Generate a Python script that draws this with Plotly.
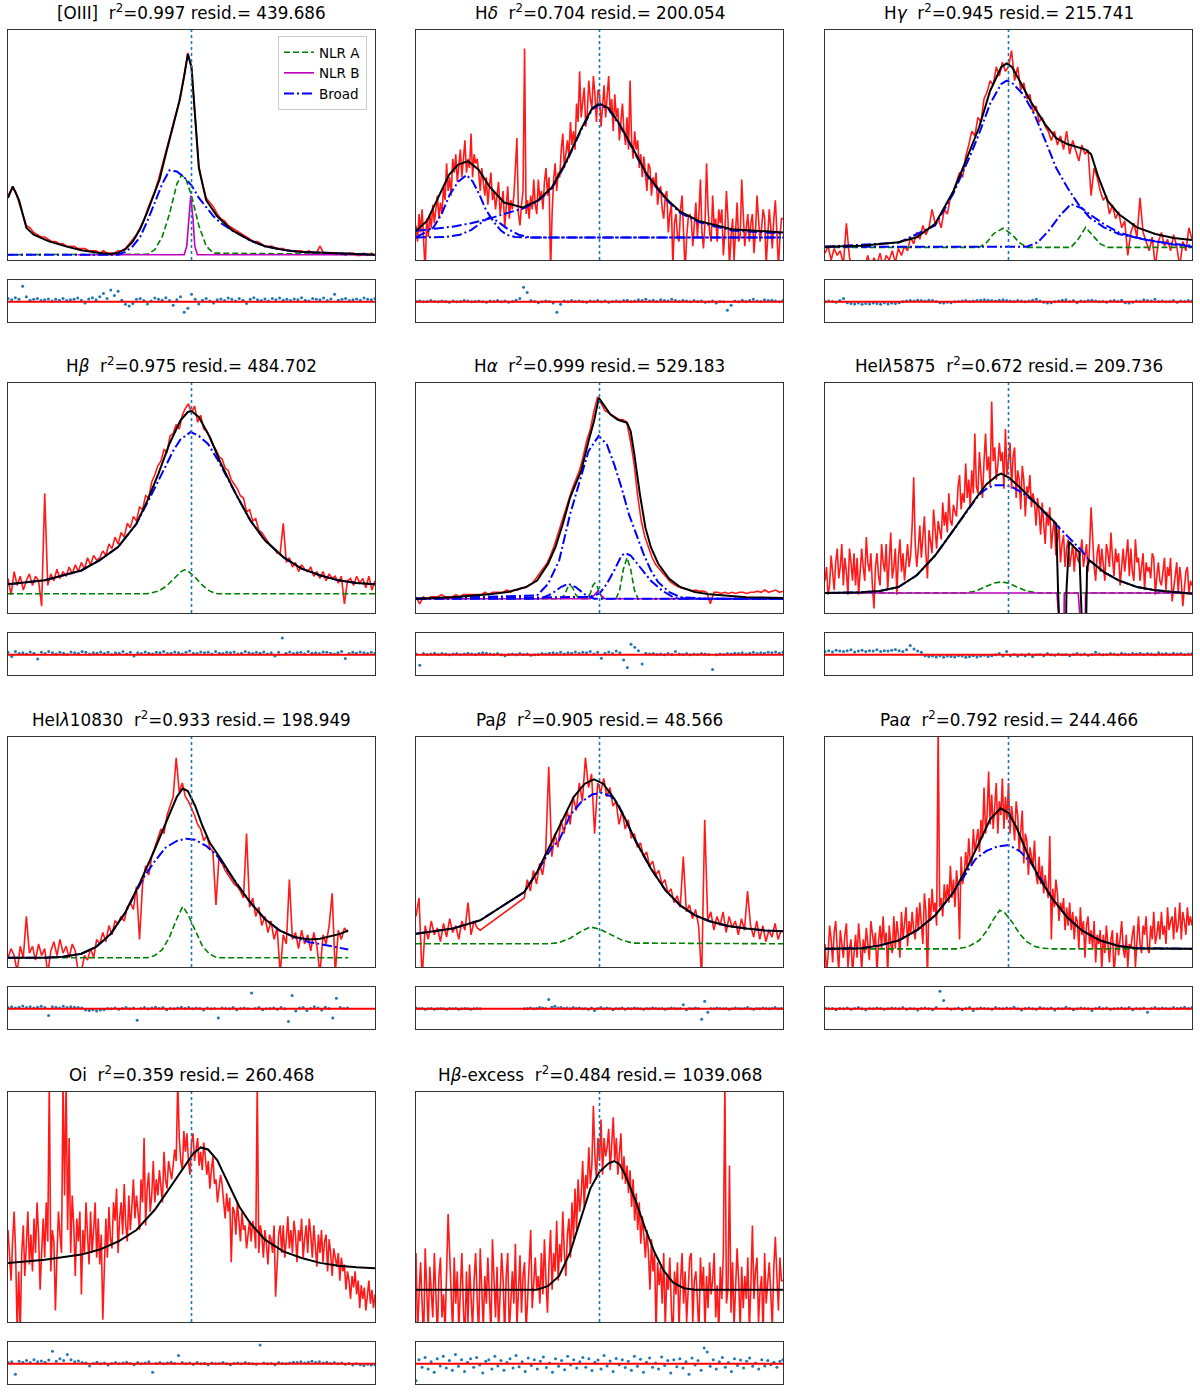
import plotly.graph_objects as go

# ---- [OIII] ----
oiii_red = [28, 31, 30, 25, 21, 15, 14, 12, 11, 10, 10, 9, 8, 8, 7, 7, 6, 6, 6, 5, 5, 5, 4, 4, 4, 3, 4, 3, 3, 3,
            4, 4, 5, 7, 9, 11, 14, 17, 22, 26, 30, 35, 41, 47, 53, 59, 65, 71, 80, 90, 83, 61, 41, 33, 27, 25, 23,
            20, 18, 17, 15, 14, 13, 12, 11, 10, 9, 8, 8, 7, 6, 6, 6, 5, 5, 5, 4, 4, 4, 4, 4, 3, 4, 3, 3, 6, 3, 3,
            3, 3, 3, 3, 2, 3, 3, 2, 2, 3, 2, 3, 2]
oiii_fit_x = [0, 1.3, 3, 5, 7, 11, 16, 20, 25, 28, 30, 32, 34, 36, 38, 40, 41.3, 43, 45, 46.7, 48, 49, 50, 50.8,
              52, 54, 57, 61, 66, 70, 75, 79, 88, 100]
oiii_fit_y = [27, 32, 26, 14, 11, 8.2, 5.8, 4.2, 3, 2.6, 3.1, 4.7, 8, 13.5, 21, 29.5, 35, 46, 58, 69, 80, 89.5, 84,
              67, 40, 26, 19, 13, 8.5, 6, 4.4, 3.6, 3, 2.3]
oiii_nlra_x = [0, 38, 40, 42, 44, 45, 46, 47.3, 48.5, 50, 51, 52, 54, 56, 100]
oiii_nlra_y = [2.3, 2.5, 4.5, 10, 20, 27, 33, 37, 35, 28, 21, 15, 6, 3, 2.3]
oiii_nlrb_x = [19, 48, 48.7, 49.2, 49.8, 50.4, 50.9, 51.6, 100]
oiii_nlrb_y = [2.3, 2.3, 6, 18, 28, 18, 6, 2.3, 2.3]
oiii_broad_x = [0, 30, 32, 34, 36, 38, 40, 42, 44, 46, 48, 50, 52, 54, 56, 58, 61, 66, 70, 75, 80, 100]
oiii_broad_y = [2.3, 2.3, 3.5, 6, 10, 17, 25, 33, 39, 38.5, 36, 32.5, 27, 23, 19, 16, 13, 8.5, 6, 4.4, 3.5, 2.3]
oiii_resid = [8, 5, 10, 6, 37, 12, 4, 6, 8, 3, 5, 7, 2, 6, 4, 8, 3, 5, 6, 9, 4, -3, 7, 10, 5, 12, 20, 8, 28, 15, 25,
              4, -6, -10, -4, 6, 8, 3, -5, 2, 9, 6, 4, 10, 3, -8, 5, 12, -25, -15, 18, 6, -5, 4, 8, 2, -3, 5, 7, 3,
              9, 6, 2, 8, 4, -4, 6, 10, 5, 3, 7, 2, 8, 5, 9, 4, 6, 3, 7, 5, 10, 4, 2, 8, 6, 5, 9, 3, 7, 18, 4, 6, 8,
              3, 5, 7, 4, 9, 6, 5, 8]

# ---- H delta ----
hd_red = [15, 8, 20, 12, 22, 5, -5, 18, 10, 20, 14, 24, 16, 22, 28, 18, 25, 20, 32, 26,
          42, 30, 36, 28, 44, 38, 46, 34, 40, 48, 36, 45, 52, 38, 44, 40, 55, 36, 46, 42,
          44, 38, 30, 40, 34, 28, 36, 24, 32, 38, 26, 30, 22, 28, 34, 20, 26, 30, 14, 24,
          32, 18, 26, 22, 28, 40, 53, 20, 15, 24, 30, 92, 20, 26, 18, 28, 22, 35, 24, 20,
          35, 26, 30, 22, 34, 40, 28, 36, -5, 20, 35, 42, 30, 38, 36, 48, 55, 40, 45, 52,
          45, 60, 50, 56, 48, 68, 60, 82, 62, 70, 75, 58, 64, 78, 70, 66, 80, 72, 60, 74,
          72, 58, 66, 76, 62, 70, 80, 64, 70, 56, 72, 62, 66, 52, 60, 68, 56, 50, 62, 48,
          78, 52, 44, 56, 48, 52, 40, 46, 36, 45, 38, 30, 42, 40, 28, 36, 32, 38, 24, 30,
          32, 22, 18, 28, 30, 12, 20, 24, -3, 16, 20, 10, 8, 22, 28, 14, -5, 10, 18, 20,
          18, 6, 14, 25, 10, 20, 35, 12, 5, 16, 42, 22, 12, 8, 28, 14, 18, 8, 22, 16,
          22, 2, 12, 30, 18, -3, 10, 18, 0, 14, 25, 8, 10, 35, 18, 6, 14, 20, 8, 16,
          20, 3, 12, 28, 18, 8, 14, 22, 18, -2, 10, 22, 14, 5, 18, 26, 12, -3, 10, 18, 18]
hd_fit_x = [0, 3, 6, 9, 11.5, 14.2, 17, 20, 24, 29, 33, 37, 41, 45, 48, 50, 52.5, 55.5, 59, 63, 68, 72, 77, 86, 100]
hd_fit_y = [12.7, 17, 27, 37, 41.5, 43, 39.4, 32, 25, 22.8, 25.7, 31.5, 43, 57, 66, 68, 66, 59, 48.8, 37, 27, 21,
            17, 13.4, 12]
hd_b1_x = [0, 4.7, 7, 9.2, 11.5, 13.8, 15.5, 17.4, 19, 21, 23, 24.6, 27, 30, 100]
hd_b1_y = [9.8, 14, 20, 28.5, 34, 37, 34, 28, 22, 17, 13, 11, 10, 9.8, 9.8]
hd_b2_x = [0, 5, 10, 15, 20, 25, 29, 33, 37, 41, 45, 48, 50, 52.5, 55.5, 59, 63, 68, 72, 77, 86, 100]
hd_b2_y = [12.7, 13.5, 14.5, 16, 18, 20.5, 22.3, 25.3, 31, 42.5, 56.5, 65.5, 67.5, 65.5, 58.5, 48.3, 36.5, 26.5,
           20.5, 16.5, 12.8, 11.5]
hd_b3_x = [0, 8, 12, 15, 18, 20, 22, 25, 28, 31, 100]
hd_b3_y = [9.8, 10, 11, 13, 16.5, 18.5, 17, 13.5, 11, 9.8, 9.8]
hd_resid = [1, 2, 0, 1, 3, 1, 0, 2, 1, -1, 2, 0, 1, 3, 2, 0, 1, 2, 0, -1, 2, 1, 3, 0, 2, -1, 1, 4, 8, 35, 22, 3, 1,
            -2, 0, 2, 1, -3, -25, -6, 2, 0, 3, 1, 2, 0, -1, 2, 1, 3, 0, 2, -1, 1, 2, 0, 3, 4, 1, 2, 5, 3, 6, 2, 4, 1,
            5, 3, 2, 6, 3, 1, 4, 2, 0, 3, 1, 2, -1, 0, 2, -3, 1, 0, -20, -8, 2, 0, 4, 1, 3, 6, 2, 1, 5, 3, 4, 2, 0,
            3]

# ---- H gamma ----
hg_red = [3, 6, 0, 5, 2, 4, -2, 16, 1, -3, -5, -4, -6, -3, 2, -4, 1, -2, 3, -3, 2, 0, 4, -1, 5, 2, 6, 4, 10, 7, 12,
          9, 15, 11, 14, 22, 16, 18, 14, 22, 20, 27, 30, 34, 38, 36, 45, 50, 56, 54, 62, 60, 70, 73, 78, 76, 84,
          80, 86, 82, 84, 91, 78, 84, 74, 77, 70, 72, 64, 67, 60, 62, 58, 56, 52, 56, 50, 54, 48, 56, 46, 52, 48,
          43, 50, 46, 48, 28, 40, 36, 30, 26, 28, 20, 24, 18, 21, 14, 17, 2, 12, 16, 10, 27, 12, 8, 4, 10, -3, 8,
          12, 6, 9, 4, 11, 6, -3, 8, 4, 14, 9]
hg_fit_x = [0, 10, 20, 25, 30, 35, 38, 42, 45, 48, 49.5, 51, 53, 56, 60, 63, 66, 69, 71, 72.5, 74.5, 77, 80, 85, 90,
            95, 100]
hg_fit_y = [5.8, 6.2, 7.7, 9.9, 15.7, 30, 41.7, 57.7, 73.6, 83.8, 85.5, 83.8, 78, 69, 59, 53, 50.4, 49, 48, 46, 36,
            25.8, 20, 14.2, 11.3, 9.6, 8.7]
hg_nlra_x = [0, 42, 44, 46, 48.5, 51, 53, 55, 67, 69, 71, 73, 75, 77, 100]
hg_nlra_y = [5.5, 5.5, 7.5, 11.5, 13.8, 11, 7.5, 5.5, 5.5, 9, 14.2, 10.5, 7, 5.5, 5.5]
hg_b1_x = [0, 20, 30, 35, 40, 42, 45, 48, 49.5, 51, 54, 57, 60, 63, 66, 69, 72, 76, 80, 85, 90, 95, 100]
hg_b1_y = [5.8, 7.5, 15, 29, 47, 55, 68, 76.5, 78, 77, 72, 63.5, 52, 40, 31.6, 24.3, 18.6, 14.2, 11.3, 9.6, 8.1,
           6.7, 5.8]
hg_b2_x = [0, 55, 58, 61, 64, 67, 70, 72, 76, 80, 85, 90, 95, 100]
hg_b2_y = [5.8, 5.8, 7.7, 12.8, 19.3, 24.3, 22.5, 20, 15.6, 12, 9.6, 8, 7, 6.2]
hg_resid = [0, 2, 1, -1, 3, 8, -2, -4, -5, -3, -6, -4, -5, -3, -4, -6, -2, -5, -3, -4, -2, 0, 2, 3, 2, 4, 3, 2, 4,
            3, 1, -2, -3, -1, -2, 0, 1, 2, 3, 1, 2, 3, 4, 5, 4, 3, 2, 4, 5, 3, 2, 1, 3, 2, 0, 2, 4, 6, 2, -1, -3, -2,
            0, 2, 4, 5, 1, 3, -2, 2, 1, 3, 4, 2, 0, 1, -1, 2, 3, 1, 4, -2, -3, -1, 2, 1, 5, 3, 2, 6, 1, 2, 0, 1, 3,
            -1, 2, 1, 3, 2]

# ---- H beta ----
hb_red = [15, 8, 18, 12, 16, 10, 14, 17, 12, 16, 14, 3, 52, 12, 17, 14, 19, 15, 18, 16, 20, 17, 21, 18, 22, 19, 24,
          21, 25, 23, 24, 27, 25, 30, 28, 33, 30, 35, 33, 39, 37, 42, 40, 46, 45, 51, 50, 57, 60, 64, 66, 71, 70,
          77, 78, 82, 80, 86, 89, 91, 87, 90, 83, 86, 80, 79, 76, 73, 71, 68, 67, 63, 62, 58, 56, 54, 51, 50, 44,
          45, 40, 41, 36, 35, 33, 31, 29, 28, 26, 26, 39, 22, 24, 20, 22, 18, 21, 19, 18, 20, 16, 18, 15, 18, 14,
          17, 15, 16, 13, 16, 4, 14, 15, 12, 16, 13, 15, 11, 16, 10, 14]
hb_fit_x = [0, 10, 20, 25, 30, 35, 38, 41, 44, 47, 49, 50, 52, 55, 58, 62, 66, 70, 75, 80, 85, 90, 95, 100]
hb_fit_y = [12.5, 14.2, 18.5, 23, 28.7, 38.8, 49, 60.6, 73.6, 83.8, 87.4, 87.8, 85.2, 76.5, 65, 52, 40.3, 31.6,
            24.3, 19.3, 16.4, 14.2, 13, 12.5]
hb_nlra_x = [0, 38, 41, 43, 45, 47, 48, 49, 51, 53, 55, 57, 100]
hb_nlra_y = [8.4, 8.4, 9.5, 11.5, 14.5, 17.8, 18.8, 18.3, 15.5, 12, 9.5, 8.4, 8.4]
hb_broad_x = [0, 10, 20, 25, 30, 35, 38, 41, 43, 45, 47, 49.8, 52, 54.5, 57, 62, 66, 70, 75, 80, 85, 90, 95, 100]
hb_broad_y = [12.5, 14.2, 18.5, 23, 28.7, 38.8, 48, 58, 64, 70.5, 75.5, 78.7, 77, 73.5, 67, 52, 40.3, 31.6, 24.3,
              19.3, 16.4, 14.2, 13, 12.5]
hb_resid = [6, -4, 8, 3, 5, 2, 7, 4, -10, 6, 3, 8, 5, 2, 6, 4, 1, 7, 5, 3, 8, 6, 2, 5, 4, 7, 3, 6, 1, 5, 4, 8, 2, 6,
            -3, 5, 3, 7, 4, 2, 6, 5, 8, 3, 4, 7, 5, 2, 6, 9, 4, 3, 7, 5, 6, 2, 8, 4, 3, 6, 5, 7, 2, 4, 8, 5, 3, 6, 4,
            7, 2, 5, -3, 6, 40, 4, 7, 3, 5, 6, 2, 8, 4, 5, 3, 7, 6, 4, 2, 5, 8, -9, 3, 6, 4, 7, 5, 3, 6, 4]

# ---- H alpha ----
ha_red = [7, 4, 7, 6, 7, 7, 7, 8, 7, 7, 7, 8, 7, 8, 8, 8, 8, 8, 8, 9, 8, 9, 9, 9, 9, 10, 9, 10, 10, 11, 11, 12, 13,
          15, 17, 19, 21.5, 25, 29, 34, 39, 45, 50, 54, 58, 62, 68, 75, 80, 88,
          94, 91, 88, 87, 86, 85, 84, 84, 83, 75, 65, 51, 40, 33, 28, 24, 21, 19, 17, 15, 13.5, 12.5, 11.5, 11,
          10.5, 10, 9.7,
          10, 9.5, 9.5, 9, 4, 9, 9, 8.5, 9, 8.5, 9, 8.5, 9, 9, 8.5, 9, 9, 9.5, 9, 10, 9, 9.5, 10, 9, 9.5]
ha_fit_x = [0, 10, 20, 25, 30, 33, 36, 38, 40, 42, 43.5, 45, 47, 48.5, 49.8, 51, 53, 55, 56.5, 57.5, 58.5, 59.5, 61,
            62.5, 64, 66, 69, 72, 76, 80, 90, 100]
ha_fit_y = [6.2, 6.9, 8.1, 9.1, 11.3, 14.1, 21.4, 28.6, 38.7, 50.2, 56, 61.8, 74.7, 83.4, 93.5, 90.6, 86.3, 84,
            83.4, 82.7, 79, 69, 51.7, 37.2, 28.6, 21.4, 14.9, 11.3, 9.1, 8.1, 6.9, 6.5]
ha_nlra_x = [0, 39.5, 40.5, 41.3, 42, 42.7, 43.5, 44.5, 46.5, 47.5, 48.2, 48.7, 49.3, 50, 51, 54.5, 55.5, 56.5,
             57.5, 58.5, 59.5, 60.5, 100]
ha_nlra_y = [6.2, 6.2, 8, 11, 12, 11, 8, 6.2, 6.2, 8.5, 12, 13, 12, 8.5, 6.2, 6.2, 10, 19, 24, 19, 10, 6.2, 6.2]
ha_nlrb_x = [0, 47.5, 48.5, 49.5, 50.5, 51.5, 100]
ha_nlrb_y = [6.2, 6.2, 7.6, 9.5, 7.6, 6.2, 6.2]
ha_b1_x = [0, 33, 36, 39, 42, 45, 47, 49.8, 52, 54, 56, 58, 60, 62, 64, 66, 69, 72, 80, 100]
ha_b1_y = [6.2, 7.6, 12.7, 22.8, 43, 59, 70.4, 77, 73.3, 64.6, 54.5, 43, 34.3, 25.7, 18.5, 13.4, 9.1, 6.9, 6.2, 6.2]
ha_b2_x = [0, 47, 50, 52, 54, 56, 57, 58.5, 61, 64, 67, 70, 74, 100]
ha_b2_y = [6.2, 7, 8.4, 12.7, 18.5, 25, 26, 25, 20, 14, 9.8, 6.9, 6.2, 6.2]
ha_b3_x = [0, 34, 37, 39.5, 41.5, 43.5, 46, 48.5, 100]
ha_b3_y = [6.2, 6.2, 8.4, 11.3, 12.7, 11.3, 8.1, 6.2, 6.2]
ha_resid = [2, -25, 3, 1, 2, 4, 1, 3, 2, 0, 2, 3, 1, 2, 4, 2, 1, 3, 5, 4, 2, 1, 3, 0, -2, 1, 2, 0, 3, 1, 2, -1, 0, 1,
            3, 2, 4, 5, 3, 6, 2, 5, 4, 7, 3, 6, 5, 8, 2, 6, -8, 4, 7, 3, 9, 5, -12, -30, 25, 18, 10, -22, 4, 2, 3, 1,
            2, 0, 3, 1, 8, 2, 1, 3, 0, 2, 1, 3, 2, 1, -35, 0, 2, 1, 3, 2, 4, 3, 5, 2, 4, 6, 3, 5, 4, 6, 5, 7, 4, 6]

# ---- HeI 5875 ----
he5_red = [14, 20, 8, 12, 25, 18, 10, 22, 28, 15, 20, 30, 12, 24, 18, 8, 28, 22, 14, 26,
           12, 24, 8, 18, 28, 20, 14, 33, 22, 18, 26, 12, 2, 20, 26, 16, 12, 30, 22, 18,
           30, 10, 22, 35, 15, 20, 28, 8, 24, 32, 18, 26, 14, 22, 30, 20, 25, 38, 59, 30,
           20, 28, 38, 24, 32, 42, 26, 15, 36, 30, 26, 45, 34, 28, 40, 36, 32, 48, 38, 44,
           35, 52, 40, 38, 47, 44, 42, 55, 60, 45, 52, 48, 65, 50, 58, 46, 62, 52, 78, 55,
           52, 70, 58, 50, 66, 78, 62, 68, 55, 92, 66, 72, 58, 64, 74, 66, 70, 54, 80, 60,
           66, 74, 54, 68, 72, 50, 62, 58, 45, 64, 58, 42, 55, 52, 60, 46, 52, 48, 38, 50,
           44, 34, 48, 40, 30, 44, 38, 46, 28, 36, 40, 25, 33, 38, 22, 30, 34, 20, 28, 32,
           20, 26, 30, 18, 28, 24, 22, 26, 32, 20, 26, 30, 18, 28, 46, 32, 20, 14, 26, 30,
           18, 28, 22, 14, 30, 26, 20, 35, 24, 16, 28, 22, 26, 12, 20, 28, 18, 24, 32, 16,
           28, 18, 14, 32, 22, 24, 14, 20, 26, 10, 22, 18, 20, 15, 26, 24, 8, 16, 22, 14,
           12, 18, 24, 10, 20, 16, 24, 5, 12, 16, 22, 9, 20, 14, 3, 10, 18, 20, 8, 14, 12]
he5_fit_x = [0, 10, 15, 20, 25, 30, 35, 40, 44, 47, 48, 50, 53, 57, 61, 63, 63.5, 64.2, 65.2, 65.8, 66.5, 68, 69.3,
             69.9, 70.6, 71.4, 72, 76, 80, 85, 90, 100]
he5_fit_y = [8.7, 9, 9.6, 11.3, 16.4, 25, 36, 47.5, 56, 59.9, 60.6, 59, 54.8, 48.3, 41.7, 38.8, 10, -60, -60, 10,
             31, 28.5, 26.5, 0, -60, 20, 23, 17.8, 14.2, 11.3, 9.9, 8.4]
he5_nlra_x = [0, 38, 41, 44, 46, 48, 50, 52, 55, 58, 100]
he5_nlra_y = [8.7, 8.7, 9.5, 11.5, 13, 13.5, 13, 11.5, 9.5, 8.7, 8.7]
he5_nlrb_x = [0, 63.2, 63.6, 64.0, 64.8, 65.2, 69.0, 69.4, 69.8, 70.6, 71.0, 100]
he5_nlrb_y = [8.7, 8.7, 0, -60, -60, 8.7, 8.7, 0, -60, -60, 8.7, 8.7]
he5_broad_x = [0, 10, 15, 20, 25, 30, 35, 40, 42, 44, 46, 48.5, 51, 54, 57, 61, 64, 67, 70, 72, 76, 80, 85, 90, 100]
he5_broad_y = [8.7, 9, 9.6, 11.3, 16.4, 25, 36, 47, 51.5, 54, 55.5, 55.5, 54.8, 52, 48.3, 41.7, 36.7, 31.6, 27, 23,
               17.8, 14.2, 11.3, 9.9, 8.4]
he5_resid = [8, 10, 7, 11, 9, 8, 10, 12, 7, 9, 11, 8, 10, 9, 12, 8, 10, 9, 11, 13, 10, 8, 12, 22, 14, 9, 6, -2, -4,
             -3, -5, -2, -6, -3, -4, -5, -2, -3, -6, -4, -2, -5, -3, -1, -4, -2, 0, 3, -3, 8, -2, 1, -3, 0, -2, 2,
             -4, 0, 1, -2, 3, 0, -1, 2, 0, 1, -2, 1, 3, 0, 2, -1, 1, 6, 2, 0, 1, 3, 2, 0, 4, 2, 1, 3, 2, 4, 1, 3, 2,
             0, 5, 2, 3, 1, 4, 2, 3, 1, 2, 3]

# ---- HeI 10830 (spectrum stops before the right edge) ----
he10_end = 92.5
he10_red = [4, 8, 5, -2, 9, 4, 22, 6, 9, 3, 10, 5, 8, -3, 7, 11, 5, 12, 6, 9, 4, 10, 7, -3, -2, 5, 3, 8, 4, 12, 10,
            15, 11, 18, 14, 20, 19, 22, 20, 26, 28, 25, 35, 12, 36, 44, 40, 48, 52, 56, 60, 58, 66, 70, 74, 91, 76,
            80, 74, 72, 69, 66, 62, 60, 55, 57, 52, 50, 27, 48, 45, 42, 40, 38, 36, 35, 33, 30, 58, 26, 30, 22, 26,
            18, 22, 15, 20, 12, 17, -3, 14, 10, 38, 12, 15, 8, 16, 10, 14, 7, 15, 9, -3, 14, 10, 18, 32, -3, 16, 12,
            17, 15]
he10_fit_x = [0, 10, 15, 20, 24, 28, 32, 36, 40, 43, 46, 47.6, 49, 51, 53, 55, 58, 62, 66, 70, 74, 78, 82, 85, 88,
              90.5, 92.7]
he10_fit_y = [4, 4, 4.5, 5.8, 8.7, 14.4, 23.8, 36.8, 51.2, 62.8, 74, 77.6, 76.5, 70, 61.3, 54, 46.9, 36.8, 28.1,
              20.9, 15.9, 13, 12, 12.3, 13.4, 14.4, 15.9]
he10_nlra_x = [0, 38, 40, 42, 44, 46, 47.6, 49, 51, 53, 55, 57, 92.7]
he10_nlra_y = [4, 4, 5, 7.5, 13, 21, 26.3, 23, 16, 9, 5.5, 4, 4]
he10_broad_x = [0, 10, 15, 20, 24, 28, 32, 37, 40, 43, 46, 48.5, 51, 54, 57, 62, 66, 70, 74, 78, 82, 85, 88, 90.5,
                92.7]
he10_broad_y = [4, 4, 4.5, 5.8, 8.7, 14.4, 23.8, 39, 46, 52, 54.8, 55.8, 55.3, 52.7, 48.3, 36.8, 28.1, 20.9, 15.9,
                13, 10.8, 10, 9.1, 8.2, 7.6]
he10_resid = [3, 5, 2, 4, 7, 3, 5, 2, 4, 6, 3, -16, 5, 4, 2, 6, 3, 5, 4, 3, 2, -3, -4, -2, -5, -3, -2, 1, 0, 2, -1,
              1, 3, 0, 2, -27, 1, 3, 0, 2, 4, 1, 3, -2, 1, 0, 2, 4, 1, 3, 0, 2, 1, -3, 2, 0, 1, -22, 2, 1, 0, 3, -2,
              1, 2, 0, 38, 1, 3, -2, 0, 1, 2, -1, 3, 0, -30, 32, -5, 2, 3, -4, 1, 5, 2, -3, 4, 1, -22, 25, 3, 1, 2]

# ---- Pa beta (gap in the spectrum between two segments) ----
pab_seg_a = (0, 17.5)
pab_seg_b = (29.5, 99.5)
pab_red_a = [22, 30, -5, 18, 12, 20, 14, 17, 11, 19, 13, 21, 15, 18, 12, 20, 16, 28, 14, 20, 17, 16]
pab_red_b = [30, 38, 33, 42, 36, 45, 40, 50, 87, 48, 58, 52, 64, 58, 68, 62, 74, 68, 80, 72, 91, 78, 84, 58, 80, 76,
             82, 74, 78, 70, 72, 62, 68, 60, 64, 56, 58, 52, 54, 48, 50, 44, 46, 40, 42, 36, 38, 32, 34, 28, 31, 26,
             48, 24, 27, 21, 25, 18, -5, 64, 20, 24, 16, 22, 18, 24, 15, 22, 17, 20, 14, 21, 16, 33, 18, 13, 20, 12,
             18, 11, 16, 13, 19, 12, 16]
pab_fit_x = [0, 10, 17.5, 29.5, 33, 37, 40, 43, 46, 48.5, 51, 54, 57, 60, 64, 68, 72, 76, 80, 85, 90, 95, 100]
pab_fit_y = [14.5, 16.7, 20.3, 32.6, 41.3, 54.3, 64.5, 74, 79.7, 81.6, 79.7, 73.2, 64.5, 54.3, 42.8, 33.3, 26.8,
             22.5, 19.9, 17.8, 16.7, 15.9, 15.5]
pab_nlra_x = [0, 36, 39, 42, 45, 47.5, 50, 53, 56, 59, 100]
pab_nlra_y = [10.1, 10.1, 10.6, 12.5, 15.5, 17.4, 16.5, 14, 11.8, 10.4, 10.1]
pab_broad_x = [0, 10, 17.5, 29.5, 33, 37, 39, 42, 45, 48, 50.5, 53, 55, 57, 60, 64, 68, 72, 76, 80, 85, 90, 95, 100]
pab_broad_y = [14.5, 16.7, 20.3, 32.6, 41.3, 52, 55, 66, 71.7, 75, 75.7, 74.3, 71, 64.5, 54.3, 42.8, 33.3, 26.8,
               22.5, 19.9, 17.8, 16.7, 15.9, 15.5]
pab_resid_a = [2, 0, 1, -1, 0, 1, -1, 0, 1, 0, -1, 1, 0, 1, -1, 0, 1, 0, -1, 0, 1, 0]
pab_resid_b = [0, 1, 2, 0, 1, 3, 2, 1, 22, 4, 6, 2, 3, 1, 2, 0, 3, 1, 2, 0, 1, -1, 2, -4, 1, 3, 0, 2, 1, -2, 1, 0, 2,
               -1, 1, 0, 2, 1, 0, -1, 1, 0, 2, 1, 0, 1, -1, 0, 2, 1, 0, 1, 10, -2, 1, 0, 2, 1, -25, 18, -8, 1, 0, 2,
               1, 0, 1, -1, 0, 2, 1, 0, 1, 3, 0, -1, 1, 0, 2, 1, 0, 1, 3, 0, 1]

# ---- Pa alpha ----
paa_red = [10, -3, 5, 18, 12, 2, 15, 20, 8, -2, 16, 10, 4, 14, 19, 0, 8, 12, -3, 6,
           14, 4, 19, 10, -2, 12, 6, 17, 9, 3, 20, 14, 9, 15, -3, 11, 18, 8, 22, 10,
           15, -3, 18, 10, 6, 22, 8, 20, 14, 4, 24, 12, 18, 26, 9, 20, 14, 24, 16, 12,
           26, 16, 28, 20, 10, 32, 24, -5, 30, 20, 34, 24, 28, 18, 105, 26, 30, 22, 36, 28,
           36, 28, 44, 30, 38, 26, 42, 34, 12, 48, 36, 40, 50, 42, 56, 46, 44, 60, 50, 55,
           60, 50, 64, 56, 78, 58, 66, 85, 62, 75, 60, 70, 80, 58, 72, 66, 82, 60, 74, 64,
           80, 58, 70, 64, 55, 72, 66, 50, 60, 68, 45, 58, 55, 40, 52, 48, 44, 55, 40, 36,
           48, 36, 44, 32, 40, 34, 30, 57, 12, 34, 26, 38, 32, 20, 28, 24, 30, 16, 26, 18,
           28, 16, 24, 12, 22, 20, 8, 26, 14, 20, 4, 18, 22, 10, 16, 8, 20, 2, 14, 10,
           16, -2, 14, 6, 18, 10, 2, 12, 16, -3, 8, 15, 5, 12, 20, 8, 4, 14, 0, 10,
           8, 14, 18, 0, 12, 22, 10, 6, 18, 14, 22, 8, 6, 18, 12, 24, 10, 14, 20, 12,
           24, 14, 18, 10, 26, 16, 20, 22, 12, 26, 15, 18, 28, 12, 24, 20, 14, 26, 18, 22, 18]
paa_fit_x = [0, 10, 15, 20, 25, 30, 35, 39, 42, 45, 47.8, 50, 52, 55, 58, 62, 66, 70, 75, 80, 85, 100]
paa_fit_y = [7.9, 8.2, 9.4, 11.5, 15.9, 22.4, 32.5, 44, 54, 64.2, 69, 67, 61.3, 49.8, 39.7, 29.6, 21.6, 15.9, 11.5,
             9.1, 8.2, 7.9]
paa_nlra_x = [0, 36, 39, 42, 44, 46, 47.6, 49, 51, 53, 55, 57, 59, 62, 100]
paa_nlra_y = [7.9, 7.9, 8.8, 11.5, 15.5, 21, 24.7, 23.5, 19.5, 14.5, 11, 9, 8.2, 7.9, 7.9]
paa_broad_x = [0, 10, 15, 20, 25, 30, 35, 39, 41, 44, 47, 50, 53, 56, 58, 62, 66, 70, 75, 80, 85, 100]
paa_broad_y = [7.9, 8.2, 9.4, 11.5, 15.9, 22.4, 32.5, 42, 46.9, 50.5, 52.4, 53, 50.5, 45.5, 40.5, 29.6, 21.6, 15.9,
               11.5, 9.1, 8.2, 7.9]
paa_resid = [2, 0, 1, -2, 1, 0, 2, -1, 1, 3, 0, -2, 1, 0, 2, 1, -1, 0, 2, 1, 0, 3, -1, 1, 0, -3, 1, 2, 0, -2, 3, 42,
             20, 1, -1, 0, 2, -2, 1, 3, -4, 0, 2, 1, 0, -1, 3, 1, 0, 2, 1, 4, 0, -3, 1, 2, 0, -1, 3, 1, 0, 2, -3, 1,
             0, 4, 1, -2, 0, 2, 1, 0, -4, 1, 3, 0, 2, -1, 0, 1, 2, 0, 3, -2, 1, 0, 2, -8, 1, 3, 0, 2, 1, 0, 3, 1, 2,
             4, 1, 3]

# ---- OI ----
oi_red = [40, 28, 18, 35, 48, 30, -5, 22, -5, 30, 42, 20, 35, 48, 25, 38, 22, 45, 30, 52,
          38, 14, 30, 45, 28, 52, 35, 105, 22, 40, 35, 5, 28, 48, 38, 30, 105, 55, 105, 40,
          80, 30, 55, 42, 20, 45, 35, 48, 12, 40, 30, 52, 38, 25, 48, 30, 40, 52, 28, 45,
          25, 38, 1, 30, 45, 28, 50, 36, 32, 52, 44, 58, 30, 45, 52, 38, 60, 42, 35, 55,
          40, 50, 62, 45, 55, 48, 40, 62, 52, 80, 42, 58, 65, 48, 55, 70, 52, 62, 55, 66,
          60, 52, 74, 62, 58, 70, 66, 62, 68, 75, 70, 105, 80, 70, 66, 83, 74, 82, 70, 64,
          78, 82, 70, 76, 80, 68, 74, 66, 78, 72, 64, 70, 58, 66, 72, 60, 62, 52, 58, 64,
          60, 52, 45, 56, 48, 54, 26, 50, 48, 38, 52, 44, 35, 48, 40, 42, 32, 38, 44, 35,
          44, 40, 32, 105, 30, 42, 38, 28, 40, 34, 25, 38, 36, 30, 42, 11, 28, 38, 42, 30,
          42, 28, 36, 46, 32, 40, 30, 44, 38, 26, 40, 35, 45, 28, 36, 42, 30, 45, 38, 28,
          42, 32, 24, 38, 30, 40, 26, 35, 38, 22, 36, 30, 20, 32, 28, 24, 30, 18, 28, 22,
          25, 14, 22, 18, 10, 20, 15, 22, 12, 18, 6, 16, 10, 15, 5, 12, 18, 8, 14, 6, 12]
oi_fit_x = [0, 10, 20, 25, 30, 35, 40, 45, 48, 50.5, 52.5, 54.5, 57, 60, 63, 66, 70, 75, 80, 85, 90, 95, 100]
oi_fit_y = [25.7, 27.1, 29.3, 31.5, 35, 40, 48.8, 60.3, 67.5, 73.3, 75.9, 75, 70.4, 60.3, 50.2, 43, 35.8, 30.7,
            27.8, 25.7, 24.5, 23.8, 23.4]
oi_resid = [3, 5, -25, 6, 4, 8, 3, 10, 5, 7, 4, 9, 30, 6, 12, 8, 22, 10, 5, 7, 3, 2, -5, 1, 4, 0, 2, -3, 1, 3, 0, 2,
            4, 1, -2, 3, 0, 2, 5, -20, 1, 3, 0, 2, 4, 1, 20, 3, 0, 2, -1, 3, 0, 1, -2, 2, 0, 1, 3, 0, -2, 1, 2, 0, 3,
            1, 0, -1, 45, 2, 0, 1, -2, 3, 1, 0, 2, 4, 3, 5, 2, 4, 6, 3, 5, 2, 4, 1, 3, 0, 2, -1, 1, -3, 0, -2, -4,
            -1, -3, -2]

# ---- H beta excess ----
hbx_red = [30, -5, 12, 26, 8, -8, 32, 18, -3, 24, 10, 2, 30, 16, -6, 20, 28, 2, 12, -4,
           20, 47, 30, 12, -5, 28, 8, 22, -4, 14, 30, 6, -8, 22, 0, 25, 12, -3, 18, 30,
           10, -6, 32, 18, -3, 20, 8, 28, 14, -5, 36, 22, 2, 24, -4, 12, 30, 18, -6, 20,
           30, -5, 12, 22, 8, 34, -2, 14, 29, 4, 20, 26, -4, 10, 24, 40, 6, 18, 28, 14,
           20, 8, 30, 12, 36, 18, 4, 26, 40, 14, 30, 22, 44, 18, 34, 26, 48, 30, 20, 38,
           45, 28, 52, 36, 58, 40, 62, 48, 55, 70, 50, 64, 58, 76, 60, 68, 94, 72, 62, 80,
           70, 88, 64, 80, 72, 76, 84, 66, 78, 89, 70, 80, 64, 74, 82, 62, 72, 60, 68, 56,
           66, 50, 62, 44, 56, 40, 52, 34, 46, 38, 28, 40, 30, 14, 36, 22, 30, -5, 26, 16,
           24, 8, 30, -3, 20, 14, 28, 6, -8, 22, 12, 26, -3, 18, 30, 8, 22, 0, 14, 28,
           30, 0, 18, 22, 10, -6, 28, 14, 24, -4, 20, 6, 26, 12, 18, 30, 2, 16, -5, 24,
           10, 30, 105, 8, 14, 68, 4, 26, -2, 12, 32, 18, -3, 24, 6, 20, 10, 28, -4, 16,
           42, 10, 22, 28, 0, 14, 20, -6, 30, 8, 18, 26, 12, -2, 24, 37, 20, 5, 28, 18, 18]
hbx_fit_x = [0, 33, 36, 39, 42, 45, 47.5, 50, 52.5, 54, 55.5, 57, 60, 62.5, 65, 67.5, 70, 73, 76, 100]
hbx_fit_y = [14, 14, 15.7, 20, 30.3, 45, 58, 65.3, 69, 70, 68.5, 64, 52, 40.5, 30.3, 22.3, 17.2, 14.7, 14, 14]
hbx_resid = [-40, 10, -8, 15, -12, 5, -20, 12, -5, 18, -10, 8, -15, 22, -6, 10, -18, 4, 12, -8, 15, -3, -22, 6, 10,
             -12, 18, -5, 8, -15, 3, 12, -10, 20, -7, 5, -18, 14, -4, 10, -12, 6, 16, -9, 2, -20, 12, -6, 8, -14,
             18, -3, 10, -10, 5, 15, -8, 12, -16, 4, 9, -12, 20, -5, 7, -18, 13, -2, 10, -9, 6, -15, 18, -6, 11,
             -20, 4, 14, -8, 2, -12, 16, -4, 8, -22, 10, -7, 12, -10, 5, -25, 14, -3, 8, -15, 38, 28, -6, 10, -12,
             5, 15, -8, 3, -18, 12, -4, 9, -10, 6, 14, -6, 2, -12, 10, -5, 8, -2, 4, -8, 6, 10]

line_center = 50

RED = "rgba(255,0,0,0.9)"
GREEN = "#008000"
MAGENTA = "#bf00bf"
BLUE = "#0000ff"
C0 = "#1f77b4"
FONT = "DejaVu Sans"


def spread(values, start=0, stop=100):
    # evenly sampled wavelength grid for a spectrum segment
    n = len(values)
    step = (stop - start) / (n - 1)
    return [start + i * step for i in range(n)]


panels = [
    dict(title="[OIII]\u00a0 r<sup>2</sup>=0.997 resid.= 439.686",
         red=(spread(oiii_red), oiii_red), fit=(oiii_fit_x, oiii_fit_y),
         nlra=[(oiii_nlra_x, oiii_nlra_y)], broad=[(oiii_broad_x, oiii_broad_y)], nlrb=[(oiii_nlrb_x, oiii_nlrb_y)],
         resid=(spread(oiii_resid), oiii_resid), legend=True),
    dict(title="H<i>δ</i>\u00a0 r<sup>2</sup>=0.704 resid.= 200.054",
         red=(spread(hd_red), hd_red), fit=(hd_fit_x, hd_fit_y), nlra=[], nlrb=[],
         broad=[(hd_b1_x, hd_b1_y), (hd_b2_x, hd_b2_y), (hd_b3_x, hd_b3_y)],
         resid=(spread(hd_resid), hd_resid)),
    dict(title="H<i>γ</i>\u00a0 r<sup>2</sup>=0.945 resid.= 215.741",
         red=(spread(hg_red), hg_red), fit=(hg_fit_x, hg_fit_y), nlra=[(hg_nlra_x, hg_nlra_y)], nlrb=[],
         broad=[(hg_b1_x, hg_b1_y), (hg_b2_x, hg_b2_y)],
         resid=(spread(hg_resid), hg_resid)),
    dict(title="H<i>β</i>\u00a0 r<sup>2</sup>=0.975 resid.= 484.702",
         red=(spread(hb_red), hb_red), fit=(hb_fit_x, hb_fit_y), nlra=[(hb_nlra_x, hb_nlra_y)], nlrb=[],
         broad=[(hb_broad_x, hb_broad_y)], resid=(spread(hb_resid), hb_resid)),
    dict(title="H<i>α</i>\u00a0 r<sup>2</sup>=0.999 resid.= 529.183",
         red=(spread(ha_red), ha_red), fit=(ha_fit_x, ha_fit_y), nlra=[(ha_nlra_x, ha_nlra_y)],
         nlrb=[(ha_nlrb_x, ha_nlrb_y)], broad=[(ha_b1_x, ha_b1_y), (ha_b2_x, ha_b2_y), (ha_b3_x, ha_b3_y)],
         resid=(spread(ha_resid), ha_resid)),
    dict(title="HeI<i>λ</i>5875\u00a0 r<sup>2</sup>=0.672 resid.= 209.736",
         red=(spread(he5_red), he5_red), fit=(he5_fit_x, he5_fit_y), nlra=[(he5_nlra_x, he5_nlra_y)],
         nlrb=[(he5_nlrb_x, he5_nlrb_y)], broad=[(he5_broad_x, he5_broad_y)],
         resid=(spread(he5_resid), he5_resid)),
    dict(title="HeI<i>λ</i>10830\u00a0 r<sup>2</sup>=0.933 resid.= 198.949",
         red=(spread(he10_red, 0, he10_end), he10_red), fit=(he10_fit_x, he10_fit_y),
         nlra=[(he10_nlra_x, he10_nlra_y)], nlrb=[], broad=[(he10_broad_x, he10_broad_y)],
         resid=(spread(he10_resid, 0, he10_end), he10_resid)),
    dict(title="Pa<i>β</i>\u00a0 r<sup>2</sup>=0.905 resid.= 48.566",
         red=(spread(pab_red_a, *pab_seg_a) + spread(pab_red_b, *pab_seg_b), pab_red_a + pab_red_b),
         fit=(pab_fit_x, pab_fit_y), nlra=[(pab_nlra_x, pab_nlra_y)], nlrb=[], broad=[(pab_broad_x, pab_broad_y)],
         resid=(spread(pab_resid_a, *pab_seg_a) + spread(pab_resid_b, *pab_seg_b), pab_resid_a + pab_resid_b)),
    dict(title="Pa<i>α</i>\u00a0 r<sup>2</sup>=0.792 resid.= 244.466",
         red=(spread(paa_red), paa_red), fit=(paa_fit_x, paa_fit_y), nlra=[(paa_nlra_x, paa_nlra_y)], nlrb=[],
         broad=[(paa_broad_x, paa_broad_y)], resid=(spread(paa_resid), paa_resid)),
    dict(title="Oi\u00a0 r<sup>2</sup>=0.359 resid.= 260.468",
         red=(spread(oi_red), oi_red), fit=(oi_fit_x, oi_fit_y), nlra=[], nlrb=[], broad=[],
         resid=(spread(oi_resid), oi_resid)),
    dict(title="H<i>β</i>-excess\u00a0 r<sup>2</sup>=0.484 resid.= 1039.068",
         red=(spread(hbx_red), hbx_red), fit=(hbx_fit_x, hbx_fit_y), nlra=[], nlrb=[], broad=[],
         resid=(spread(hbx_resid), hbx_resid)),
]

W, H = 1200, 1393
col_left = [8, 416, 825]
row_top = [30, 383, 737, 1092]
panel_w, main_h = 367, 230
resid_gap, resid_h = 250, 42

fig = go.Figure()
layout = dict(width=W, height=H, margin=dict(l=0, r=0, t=0, b=0),
              paper_bgcolor="white", plot_bgcolor="white", font=dict(family=FONT, color="black"))
shapes, annotations = [], []

axis_style = dict(showline=True, mirror=True, linecolor="#333333", linewidth=1, showgrid=False,
                  zeroline=False, showticklabels=False, ticks="")

for k, p in enumerate(panels):
    row, col = divmod(k, 3)
    left, top = col_left[col], row_top[row]
    xd = [left / W, (left + panel_w) / W]
    main_dom = [1 - (top + main_h) / H, 1 - top / H]
    res_dom = [1 - (top + resid_gap + resid_h) / H, 1 - (top + resid_gap) / H]
    im, ir = 2 * k + 1, 2 * k + 2
    xm, ym = ("x" if im == 1 else f"x{im}"), ("y" if im == 1 else f"y{im}")
    xr, yr = f"x{ir}", f"y{ir}"
    layout["xaxis" if im == 1 else f"xaxis{im}"] = dict(domain=xd, range=[0, 100], anchor=ym, **axis_style)
    layout["yaxis" if im == 1 else f"yaxis{im}"] = dict(domain=main_dom, range=[0, 100], anchor=xm, **axis_style)
    layout[f"xaxis{ir}"] = dict(domain=xd, range=[0, 100], anchor=yr, **axis_style)
    layout[f"yaxis{ir}"] = dict(domain=res_dom, range=[-48, 52], anchor=xr, **axis_style)

    leg = p.get("legend", False)
    fig.add_trace(go.Scatter(x=p["red"][0], y=p["red"][1], mode="lines", line=dict(color=RED, width=1.6),
                             xaxis=xm, yaxis=ym, showlegend=False))
    for i, (cx, cy) in enumerate(p["nlra"]):
        fig.add_trace(go.Scatter(x=cx, y=cy, mode="lines", name="NLR A", legendrank=1,
                                 line=dict(color=GREEN, width=1.6, dash="6px,3px"),
                                 xaxis=xm, yaxis=ym, showlegend=leg and i == 0))
    for i, (cx, cy) in enumerate(p["nlrb"]):
        fig.add_trace(go.Scatter(x=cx, y=cy, mode="lines", name="NLR B", legendrank=2,
                                 line=dict(color=MAGENTA, width=1.6),
                                 xaxis=xm, yaxis=ym, showlegend=leg and i == 0))
    for i, (cx, cy) in enumerate(p["broad"]):
        fig.add_trace(go.Scatter(x=cx, y=cy, mode="lines", name="Broad", legendrank=3,
                                 line=dict(color=BLUE, width=2, dash="10px,3px,2px,3px"),
                                 xaxis=xm, yaxis=ym, showlegend=leg and i == 0))
    fig.add_trace(go.Scatter(x=p["fit"][0], y=p["fit"][1], mode="lines", line=dict(color="black", width=2),
                             xaxis=xm, yaxis=ym, showlegend=False))
    fig.add_trace(go.Scatter(x=p["resid"][0], y=p["resid"][1], mode="markers",
                             marker=dict(color=C0, size=3), xaxis=xr, yaxis=yr, showlegend=False))

    # rest-frame line centre and zero residual line
    shapes.append(dict(type="line", xref=xm, yref=f"{ym} domain", x0=line_center, x1=line_center, y0=0, y1=1,
                       line=dict(color=C0, width=1.6, dash="dot"), layer="above"))
    shapes.append(dict(type="line", xref=f"{xr} domain", yref=yr, x0=0, x1=1, y0=0, y1=0,
                       line=dict(color="red", width=2), layer="above"))
    annotations.append(dict(text=p["title"], xref="paper", yref="paper", x=(left + panel_w / 2) / W,
                            y=1 - (top - 5) / H, xanchor="center", yanchor="bottom", showarrow=False,
                            font=dict(family=FONT, size=16.8, color="black")))

layout["shapes"] = shapes
layout["annotations"] = annotations
layout["legend"] = dict(x=367 / W, y=1 - 36 / H, xanchor="right", yanchor="top", bgcolor="rgba(255,255,255,0.85)",
                        bordercolor="#cccccc", borderwidth=1, font=dict(family=FONT, size=13.5),
                        tracegroupgap=0, itemwidth=30)
fig.update_layout(**layout)

# page body margin would push the figure 8px off its place
fig.write_html("out.html", config={"displayModeBar": False},
               post_script="document.body.style.margin='0';")
